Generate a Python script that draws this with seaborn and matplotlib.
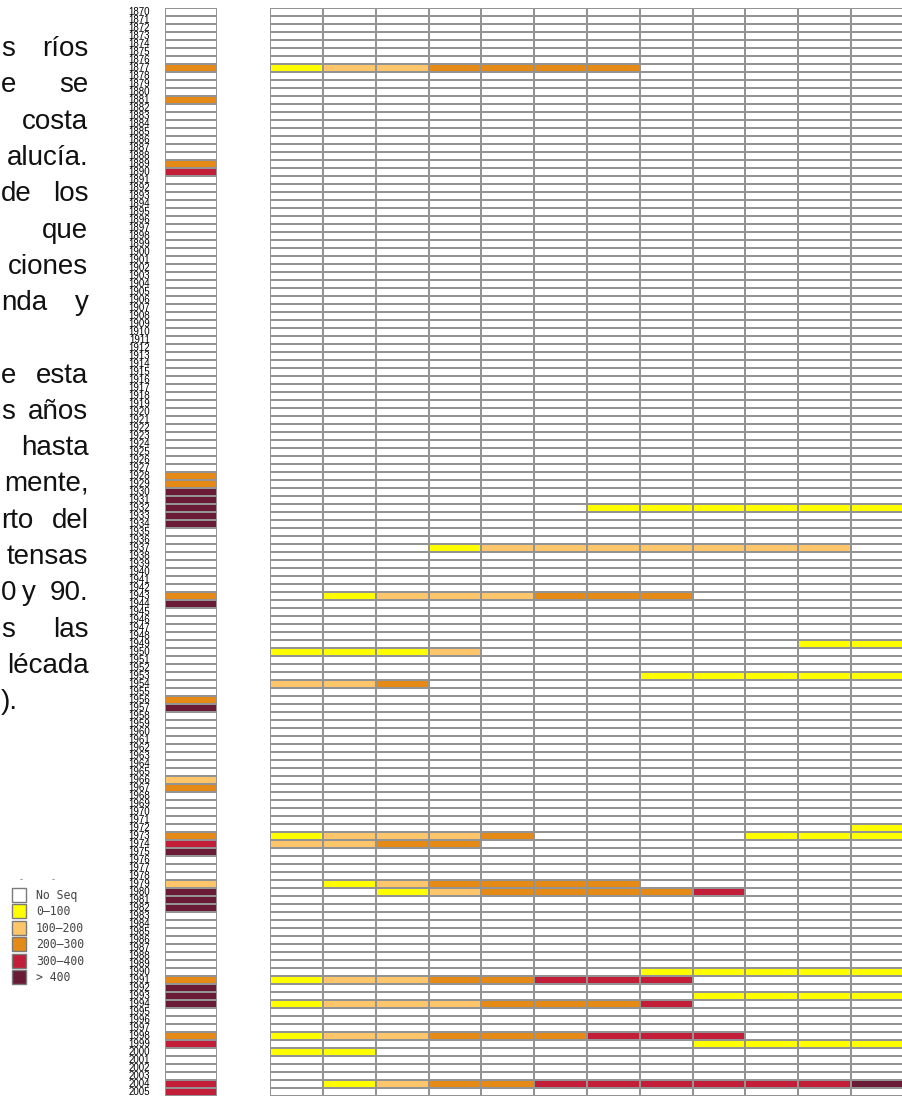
import numpy as np
import pandas as pd
import matplotlib
matplotlib.use("Agg")
import matplotlib.pyplot as plt
from matplotlib.colors import ListedColormap
from matplotlib.patches import Rectangle
import seaborn as sns

# ---- data -------------------------------------------------------------
years = list(range(1870, 2006))
n_sites = 12

class_labels = ["No Seq", "0\u2013100", "100\u2013200", "200\u2013300", "300\u2013400", "> 400"]
class_colors = ["#ffffff", "#ffff00", "#fec66a", "#e68a17", "#c31e39", "#6a1b36"]

# per-site class codes (0 = no sequence) for the years with any record
site_rows = {
    1877: [1, 2, 2, 3, 3, 3, 3, 0, 0, 0, 0, 0],
    1932: [0, 0, 0, 0, 0, 0, 1, 1, 1, 1, 1, 1],
    1937: [0, 0, 0, 1, 2, 2, 2, 2, 2, 2, 2, 0],
    1943: [0, 1, 2, 2, 2, 3, 3, 3, 0, 0, 0, 0],
    1949: [0, 0, 0, 0, 0, 0, 0, 0, 0, 0, 1, 1],
    1950: [1, 1, 1, 2, 0, 0, 0, 0, 0, 0, 0, 0],
    1953: [0, 0, 0, 0, 0, 0, 0, 1, 1, 1, 1, 1],
    1954: [2, 2, 3, 0, 0, 0, 0, 0, 0, 0, 0, 0],
    1972: [0, 0, 0, 0, 0, 0, 0, 0, 0, 0, 0, 1],
    1973: [1, 2, 2, 2, 3, 0, 0, 0, 0, 1, 1, 1],
    1974: [2, 2, 3, 3, 0, 0, 0, 0, 0, 0, 0, 0],
    1979: [0, 1, 2, 3, 3, 3, 3, 0, 0, 0, 0, 0],
    1980: [0, 0, 1, 2, 3, 3, 3, 3, 4, 0, 0, 0],
    1990: [0, 0, 0, 0, 0, 0, 0, 1, 1, 1, 1, 1],
    1991: [1, 2, 2, 3, 3, 4, 4, 4, 0, 0, 0, 0],
    1993: [0, 0, 0, 0, 0, 0, 0, 0, 1, 1, 1, 1],
    1994: [1, 2, 2, 2, 3, 3, 3, 4, 0, 0, 0, 0],
    1998: [1, 2, 2, 3, 3, 3, 4, 4, 4, 0, 0, 0],
    1999: [0, 0, 0, 0, 0, 0, 0, 0, 1, 1, 1, 1],
    2000: [1, 1, 0, 0, 0, 0, 0, 0, 0, 0, 0, 0],
    2004: [0, 1, 2, 3, 3, 4, 4, 4, 4, 4, 4, 5],
}

# summary class per year (0 = no sequence)
summary_codes = {
    1877: 3, 1881: 3, 1889: 3, 1890: 4,
    1928: 3, 1929: 3, 1930: 5, 1931: 5, 1932: 5, 1933: 5, 1934: 5,
    1943: 3, 1944: 5, 1956: 3, 1957: 5, 1966: 2, 1967: 3,
    1973: 3, 1974: 4, 1975: 5, 1979: 2, 1980: 5, 1981: 5, 1982: 5,
    1991: 3, 1992: 5, 1993: 5, 1994: 5, 1998: 3, 1999: 4,
    2004: 4, 2005: 4,
}

# justified paragraph: first word flush left, last word flush right,
# optional middle word placed at its own centre
text_lines = [
    ("s", None, "r\u00edos"), ("e", None, "se"), ("", None, "costa"),
    ("", None, "aluc\u00eda."), ("de", None, "los"), ("", None, "que"),
    ("", None, "ciones"), ("nda", None, "y"), None,
    ("e", None, "esta"), ("s", None, "a\u00f1os"), ("", None, "hasta"),
    ("", None, "mente,"), ("rto", None, "del"), ("", None, "tensas"),
    ("0", ("y", 29), "90."), ("s", None, "las"), ("", None, "l\u00e9cada"),
    (").", None, ""),
]

# ---- tables ----------------------------------------------------------
main = pd.DataFrame(0, index=years, columns=range(1, n_sites + 1))
for yr, row in site_rows.items():
    main.loc[yr] = row
summary = pd.DataFrame({"s": [summary_codes.get(y, 0) for y in years]}, index=years)

# ---- figure ----------------------------------------------------------
W, H = 903, 1097
fig = plt.figure(figsize=(W / 100, H / 100), dpi=100, facecolor="white")


def fx(px):
    return px / W


def fy(py):
    return 1 - py / H


cmap = ListedColormap(class_colors)
grid_kw = dict(cmap=cmap, vmin=-0.5, vmax=5.5, cbar=False,
               linewidths=1.4, linecolor="#939393", xticklabels=False)

ax_main = fig.add_axes([fx(270), fy(1096), 634 / W, 1088 / H])
sns.heatmap(main, ax=ax_main, yticklabels=False, **grid_kw)

ax_sum = fig.add_axes([fx(165), fy(1096), 52 / W, 1088 / H])
sns.heatmap(summary, ax=ax_sum, yticklabels=years, **grid_kw)
ax_sum.tick_params(axis="y", length=0, pad=11, labelsize=7.0, labelcolor="black")
for t in ax_sum.get_yticklabels():
    t.set_rotation(0)
    t.set_fontfamily("Liberation Sans")

for ax, df in ((ax_main, main), (ax_sum, summary)):
    ax.set_xlabel("")
    ax.set_ylabel("")
    nr, nc = df.shape
    gx, gy = np.meshgrid(np.arange(nc) + 0.5, np.arange(nr) + 0.5)
    ax.scatter(gx.ravel(), gy.ravel(), s=0.3, marker="s", color="#a0a0a0",
               linewidths=0, zorder=3)

# ---- paragraph text at left ------------------------------------------
fs = 20
txt_kw = dict(va="baseline", fontsize=fs, family="Liberation Sans", color="#111111")
for i, line in enumerate(text_lines):
    if line is None:
        continue
    base = fy(56 + 36.3 * i)
    left, mid, right = line
    if left:
        fig.text(fx(1), base, left, ha="left", **txt_kw)
    if mid:
        fig.text(fx(mid[1]), base, mid[0], ha="center", **txt_kw)
    if right:
        fig.text(fx(88.5), base, right, ha="right", **txt_kw)

# ---- legend ----------------------------------------------------------
fig.text(fx(21), fy(880), "-", fontsize=6, color="#777777", ha="center", va="center")
fig.text(fx(53), fy(880), "-", fontsize=6, color="#777777", ha="center", va="center")
for k, (lab, col) in enumerate(zip(class_labels, class_colors)):
    top = 888 + 16.4 * k
    fig.add_artist(Rectangle((fx(12), fy(top + 14)), 14 / W, 14 / H,
                             transform=fig.transFigure, facecolor=col,
                             edgecolor="#7a7a7a", linewidth=1.0))
    fig.text(fx(36), fy(top + 7.5), lab, fontsize=8.3, family="DejaVu Sans Mono",
             color="#444444", ha="left", va="center")

fig.savefig("out.png", dpi=100, facecolor="white")
